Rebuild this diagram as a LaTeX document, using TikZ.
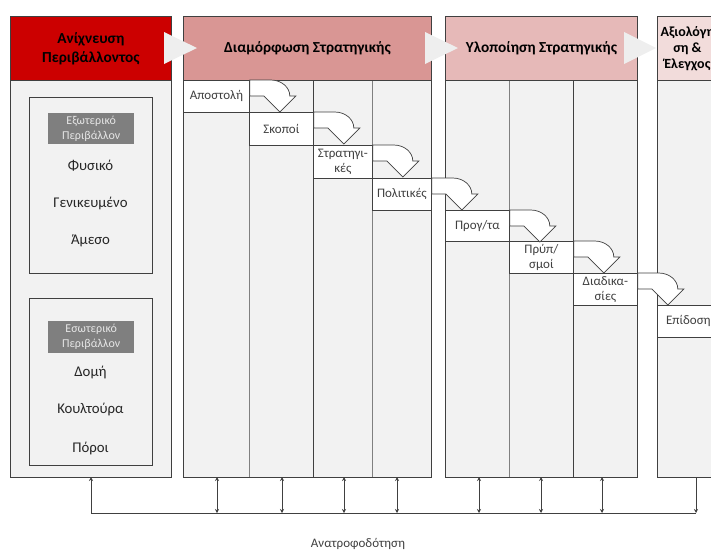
\documentclass[tikz,border=0pt]{standalone}
\usepackage{fontspec}
\setmainfont{Carlito}
\usetikzlibrary{arrows.meta}

\definecolor{edge}{HTML}{404040}
\definecolor{lane}{HTML}{808080}
\definecolor{panel}{HTML}{F2F2F2}
\definecolor{headA}{HTML}{CC0000}
\definecolor{headB}{HTML}{D99694}
\definecolor{headC}{HTML}{E6B9B8}
\definecolor{headD}{HTML}{F2DCDB}
\definecolor{chev}{HTML}{EEEEEE}
\definecolor{tagbg}{HTML}{7F7F7F}
\definecolor{tagtxt}{HTML}{E6E6E6}
\definecolor{txt}{HTML}{262626}
\definecolor{steptxt}{HTML}{404040}

\tikzset{
  box/.style={draw=edge, line width=0.8pt, inner sep=0pt, anchor=north west},
  head/.style={box, align=center, text=black,
    font=\fontsize{15.3}{19}\selectfont\bfseries},
  body/.style={box, fill=panel},
  lanebox/.style={box, draw=lane, fill=panel},
  tag/.style={anchor=north west, inner sep=0pt, fill=tagbg, text=tagtxt,
    align=center, font=\fontsize{12}{15}\selectfont},
  item/.style={inner sep=0pt, text=txt, font=\fontsize{14.8}{17}\selectfont},
  stepbox/.style={box, fill=white, align=center, text=steptxt,
    font=\fontsize{13}{15}\selectfont},
  chevron/.style={fill=chev},
  fb/.style={draw=edge, line width=0.7pt},
  fbtip/.tip={Stealth[length=4pt, width=4pt]},
  bentarrow/.pic={
    \draw[draw=edge, line width=0.7pt, fill=white]
      (0,0) -- (21,0) .. controls (31.5,0) and (40,7.2) .. (40,16)
      -- (46,16) -- (30,32) -- (14,16) -- (0,16) -- cycle;
  }
}

\begin{document}
\begin{tikzpicture}[x=1pt, y=-1pt]
\useasboundingbox (0,0) rectangle (711,550);
\clip (0,0) rectangle (711,550);

% ---- column 1: environmental scanning
\node[body, minimum width=161, minimum height=397] (b1) at (10,80) {};
\node[head, fill=headA, minimum width=161, minimum height=64] (h1) at (10,16)
  {Ανίχνευση\\Περιβάλλοντος};

\node[box, fill=panel, minimum width=123, minimum height=176] (ext) at (29,97) {};
\node[tag, minimum width=86, minimum height=31] (extTag) at (48,113)
  {Εξωτερικό\\Περιβάλλον};
\node[item] (fys) at (90.5,166) {Φυσικό};
\node[item] (gen) at (90.5,203) {Γενικευμένο};
\node[item] (ame) at (90.5,241) {Άμεσο};

\node[box, fill=panel, minimum width=123, minimum height=167] (int) at (29,298) {};
\node[tag, minimum width=86, minimum height=32] (intTag) at (48,321)
  {Εσωτερικό\\Περιβάλλον};
\node[item] (dom) at (90.5,372) {Δομή};
\node[item] (koul) at (90.5,409) {Κουλτούρα};
\node[item] (por) at (90.5,448) {Πόροι};

% ---- column 2: strategy formulation
\node[body, minimum width=248, minimum height=397] (b2) at (183,80) {};
\node[lanebox, minimum width=66, minimum height=397] (l21) at (183,80) {};
\node[lanebox, minimum width=64, minimum height=397] (l22) at (249,80) {};
\node[lanebox, draw=edge, minimum width=59, minimum height=397] (l23) at (313,80) {};
\node[lanebox, minimum width=59, minimum height=397] (l24) at (372,80) {};
\node[box, minimum width=248, minimum height=397] (b2o) at (183,80) {};
\node[head, fill=headB, minimum width=248, minimum height=64] (h2) at (183,16)
  {Διαμόρφωση Στρατηγικής};

% ---- column 3: strategy implementation
\node[body, minimum width=192, minimum height=397] (b3) at (445,80) {};
\node[lanebox, minimum width=64, minimum height=397] (l31) at (445,80) {};
\node[lanebox, minimum width=64, minimum height=397] (l32) at (509,80) {};
\node[lanebox, draw=edge, minimum width=64, minimum height=397] (l33) at (573,80) {};
\node[box, minimum width=192, minimum height=397] (b3o) at (445,80) {};
\node[head, fill=headC, minimum width=192, minimum height=64] (h3) at (445,16)
  {Υλοποίηση Στρατηγικής};

% ---- column 4: evaluation and control (runs past the right edge)
\node[body, minimum width=60, minimum height=397] (b4) at (657,80) {};
\node[head, fill=headD, minimum width=60, minimum height=64,
      font=\fontsize{14}{16}\selectfont\bfseries] (h4) at (657,16)
  {Αξιολόγη\\ση \&\\Έλεγχος};

% ---- chevrons between the phases
\fill[chevron] (164,32) -- (197,48) -- (164,64) -- cycle;
\fill[chevron] (425,32) -- (458,48) -- (425,64) -- cycle;
\fill[chevron] (624,32) -- (656,48) -- (624,64) -- cycle;

% ---- cascade of steps
\node[stepbox, minimum width=66, minimum height=32] (apost) at (183,80) {Αποστολή};
\node[stepbox, minimum width=64, minimum height=33] (skop) at (249,112) {Σκοποί};
\node[stepbox, minimum width=59, minimum height=33] (strat) at (313,145) {Στρατηγι-\\κές};
\node[stepbox, minimum width=59, minimum height=32] (polit) at (372,178) {Πολιτικές};
\node[stepbox, minimum width=64, minimum height=31] (prog) at (445,210) {Προγ/τα};
\node[stepbox, minimum width=64, minimum height=32] (pryp) at (509,241) {Πρύπ/\\σμοί};
\node[stepbox, minimum width=64, minimum height=32] (diad) at (573,273) {Διαδικα-\\σίες};
\node[stepbox, minimum width=62, minimum height=32] (epid) at (657,305) {Επίδοση};

\pic at (apost.north east) {bentarrow};
\pic at (skop.north east) {bentarrow};
\pic at (strat.north east) {bentarrow};
\pic at (polit.north east) {bentarrow};
\pic at (prog.north east) {bentarrow};
\pic at (pryp.north east) {bentarrow};
\pic at (diad.north east) {bentarrow};

% ---- feedback loop
\foreach \i/\xx in {0/91,1/217,2/282,3/344,4/397,5/479,6/541,7/602,8/696} {
  \coordinate (ft\i) at (\xx,477);
  \coordinate (fb\i) at (\xx,513);
}
\draw[fb] (fb0) -- (fb8);
\draw[fb, -fbtip] (fb0) -- (ft0);
\foreach \i in {1,...,7} {
  \draw[fb, fbtip-fbtip] (ft\i) -- (fb\i);
}
\draw[fb, -fbtip] (ft8) -- (fb8);
\node[text=steptxt, font=\fontsize{13}{15}\selectfont] (fblabel) at (358,544)
  {Ανατροφοδότηση};
\end{tikzpicture}
\end{document}
